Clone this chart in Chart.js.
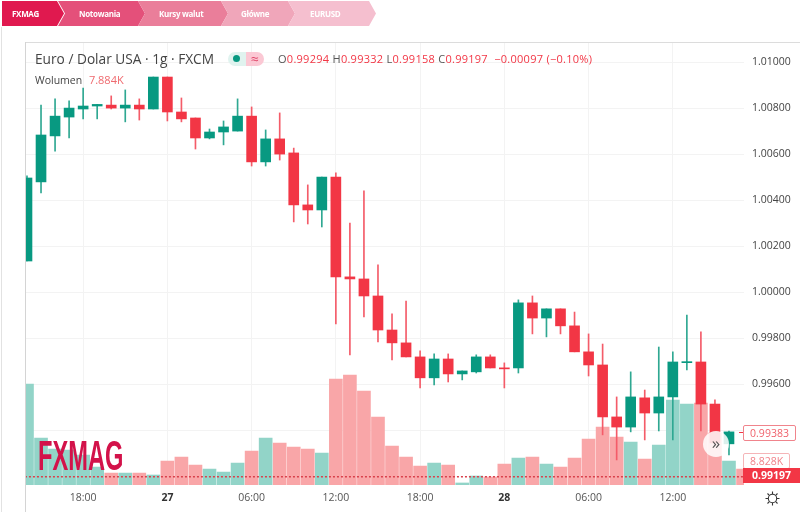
<!DOCTYPE html>
<html lang="pl">
<head>
<meta charset="utf-8">
<title>EURUSD</title>
<script src="https://cdn.jsdelivr.net/npm/chart.js@4/dist/chart.umd.min.js"></script>
<style>
  html, body { margin: 0; padding: 0; background: #fff; }
  #wrap { position: relative; width: 800px; height: 512px; overflow: hidden; font-family: "Open Sans", sans-serif; }
  canvas { position: absolute; left: 0; top: 0; }
  .abs { position: absolute; white-space: nowrap; }
  .tab { position: absolute; top: 1px; height: 25px; clip-path: polygon(0 0, calc(100% - 7px) 0, 100% 50%, calc(100% - 7px) 100%, 0 100%, 7px 50%); }
  .tabtxt { position: absolute; top: 8px; color: #fff; font: bold 8px "Open Sans", sans-serif; letter-spacing: -0.3px; }
  .ohlc { left: 278px; top: 51px; font-size: 11px; color: #f23645; letter-spacing: 0.27px; }
  .ohlc b { font-weight: normal; color: #555; }
  .pricebox { position: absolute; font: 10.5px "Open Sans", sans-serif; text-align: center; box-sizing: border-box; }
</style>
</head>
<body>
<div id="wrap">
  <canvas id="chart" width="800" height="512"></canvas>

  <div class="abs" style="left:1px;top:27px;width:1px;height:485px;background:#e2e2e2"></div>
  <div class="abs" style="left:25px;top:42px;width:775px;height:1px;background:#dcdcdc"></div>
  <div class="abs" style="left:25px;top:42px;width:1px;height:470px;background:#d4d4d4"></div>

  <div class="tab" style="left:2px;width:62px;background:#e0194f;clip-path:polygon(0 0,calc(100% - 7px) 0,100% 50%,calc(100% - 7px) 100%,0 100%)"></div>
  <div class="tab" style="left:58px;width:87px;background:#e4507a"></div>
  <div class="tab" style="left:138px;width:90px;background:#ea7e9a"></div>
  <div class="tab" style="left:221px;width:74px;background:#f0a6ba"></div>
  <div class="tab" style="left:288px;width:88px;background:#f5bfcf"></div>
  <div class="tabtxt" style="left:12px">FXMAG</div>
  <div class="tabtxt" style="left:79px">Notowania</div>
  <div class="tabtxt" style="left:159px">Kursy walut</div>
  <div class="tabtxt" style="left:241px">Główne</div>
  <div class="tabtxt" style="left:310px">EURUSD</div>

  <div class="abs" style="left:35px;top:49px;font-size:13.7px;color:#444">Euro / Dolar USA · 1g · FXCM</div>
  <div class="abs" style="left:228px;top:52px;width:18px;height:14px;background:#e0f3ef;border-radius:7px 0 0 7px"></div>
  <div class="abs" style="left:233px;top:55px;width:7px;height:7px;background:#089981;border-radius:50%"></div>
  <div class="abs" style="left:246px;top:52px;width:18px;height:14px;background:#fbc8d4;border-radius:0 7px 7px 0;color:#e0476a;font-size:14px;line-height:13px;text-align:center">≈</div>
  <div class="abs ohlc"><b>O</b>0.99294 <b>H</b>0.99332 <b>L</b>0.99158 <b>C</b>0.99197 &nbsp;−0.00097 (−0.10%)</div>
  <div class="abs" style="left:35px;top:72px;font-size:10.5px;color:#444">Wolumen <span style="color:#ef6a6f;margin-left:4px;font-size:11px">7.884K</span></div>

  <div class="abs" style="left:38px;top:431px;font:bold 43px 'Liberation Sans Narrow',sans-serif;color:#d3124a;transform:scaleX(0.55);transform-origin:left top">FXMAG</div>

  <div class="abs" style="left:716px;top:431px;width:26px;height:26px;margin-left:-13px;border-radius:50%;background:rgba(255,255,255,0.85);color:#555;font-size:17px;line-height:23px;text-align:center">»</div>

  <div class="abs" style="left:739px;top:432px;width:5px;height:1px;background:#f23645"></div>
  <div class="pricebox" style="left:743px;top:425px;width:53px;height:16px;background:#fff;border:1px solid #f0848c;border-radius:2px;color:#f0626c;line-height:14px">0.99383</div>
  <div class="pricebox" style="left:743px;top:453px;width:47px;height:16px;background:#fff;border:1px solid #f5b5b8;border-radius:2px;color:#f0828a;line-height:14px">8.828K</div>
  <div class="pricebox" style="left:743px;top:468px;width:57px;height:15px;background:#f23645;color:#fff;font-weight:bold;line-height:15px">0.99197</div>

  <svg class="abs" style="left:765px;top:491px" width="15" height="15" viewBox="0 0 15 15" fill="none" stroke="#333" stroke-width="1.1">
    <circle cx="7.5" cy="7.5" r="4.2"/>
    <path d="M7.5 0.5v2.5M7.5 12v2.5M0.5 7.5h2.5M12 7.5h2.5M2.5 2.5l1.8 1.8M10.7 10.7l1.8 1.8M2.5 12.5l1.8-1.8M10.7 4.3l1.8-1.8"/>
  </svg>
</div>

<script>
const opens = [1.00135,1.00479,1.00679,1.00761,1.00796,1.00809,1.00813,1.00800,1.00813,1.00796,1.00935,1.00783,1.00757,1.00670,1.00696,1.00700,1.00765,1.00566,1.00666,1.00605,1.00379,1.00357,1.00500,1.00066,1.00057,0.99983,0.99835,0.99779,0.99718,0.99627,0.99709,0.99644,0.99653,0.99718,0.99670,0.99670,0.99953,0.99887,0.99927,0.99853,0.99740,0.99683,0.99457,0.99413,0.99540,0.99474,0.99544,0.99693,0.99696,0.99513,0.99340];
const highs = [1.00505,1.00813,1.00840,1.00831,1.00887,1.00816,1.00853,1.00879,1.00840,1.00935,1.00935,1.00844,1.00757,1.00709,1.00744,1.00840,1.00805,1.00705,1.00779,1.00626,1.00466,1.00500,1.00518,1.00300,1.00440,1.00118,0.99905,0.99961,0.99744,0.99731,0.99731,0.99657,0.99727,0.99727,0.99692,0.99966,0.99983,0.99927,0.99927,0.99913,0.99818,0.99774,0.99544,0.99653,0.99574,0.99761,0.99740,0.99900,0.99827,0.99531,0.99396];
const lows = [1.00135,1.00431,1.00613,1.00670,1.00753,1.00753,1.00796,1.00740,1.00748,1.00796,1.00744,1.00740,1.00622,1.00666,1.00640,1.00700,1.00548,1.00548,1.00574,1.00305,1.00296,1.00283,0.99861,0.99727,0.99892,0.99783,0.99705,0.99718,0.99583,0.99596,0.99609,0.99618,0.99648,0.99670,0.99583,0.99648,0.99818,0.99805,0.99818,0.99740,0.99635,0.99379,0.99270,0.99392,0.99357,0.99396,0.99357,0.99661,0.99396,0.99344,0.99292];
const closes = [1.00496,1.00683,1.00765,1.00800,1.00809,1.00816,1.00800,1.00813,1.00796,1.00935,1.00783,1.00753,1.00670,1.00696,1.00718,1.00765,1.00566,1.00666,1.00600,1.00379,1.00357,1.00500,1.00066,1.00057,0.99983,0.99835,0.99779,0.99718,0.99627,0.99709,0.99644,0.99657,0.99718,0.99670,0.99666,0.99953,0.99887,0.99927,0.99853,0.99740,0.99683,0.99457,0.99413,0.99544,0.99474,0.99544,0.99696,0.99696,0.99513,0.99344,0.99392];
const volumes = [17.92,11.55,10.25,10.13,9.54,8.13,7.42,7.42,7.42,7.18,8.83,9.31,8.36,7.89,7.53,8.60,10.01,11.55,10.96,10.49,10.25,9.78,18.51,18.99,17.10,14.03,10.60,9.31,8.24,8.60,8.36,6.24,7.06,6.94,8.48,9.19,9.31,8.48,8.13,9.19,11.43,12.85,11.67,11.08,9.07,10.72,16.04,15.56,15.68,12.14,8.83,7.88];
const tickIndex = [4,10,16,22,28,34,40,46];
const tickNames = ['18:00','27','06:00','12:00','18:00','28','06:00','12:00'];
const boldTicks = ['27','28'];
const priceTicks = [0.994,0.996,0.998,1.000,1.002,1.004,1.006,1.008,1.010];
const lastClose = 0.99197;

const green = '#089981';
const red = '#f23645';
const greenVol = '#92d4c8';
const redVol = '#f9a6a8';

const isUp = i => i < opens.length && closes[i] > opens[i];

const candleColors = opens.map((o, i) => isUp(i) ? green : red);
const wickColors = opens.map((o, i) => isUp(i) ? '#2fa892' : '#f45c69');
const volColors = volumes.map((v, i) => isUp(i) ? greenVol : redVol);

new Chart(document.getElementById('chart'), {
  type: 'bar',
  data: {
    datasets: [
      {
        type: 'line',
        data: [{x: -1, y: lastClose}, {x: 53, y: lastClose}],
        borderColor: '#d9414c',
        borderWidth: 1.4,
        borderDash: [2, 2],
        pointRadius: 0,
        order: 0
      },
      {
        data: opens.map((o, i) => ({x: i, y: [o, closes[i]]})),
        backgroundColor: candleColors,
        barThickness: 10,
        minBarLength: 1,
        grouped: false,
        order: 1
      },
      {
        data: opens.map((o, i) => ({x: i, y: [lows[i], highs[i]]})),
        backgroundColor: wickColors,
        barThickness: 1,
        grouped: false,
        order: 2
      },
      {
        data: volumes.map((v, i) => ({x: i, y: v})),
        backgroundColor: volColors,
        barThickness: 13,
        grouped: false,
        yAxisID: 'vol',
        order: 3
      }
    ]
  },
  options: {
    responsive: false,
    animation: false,
    layout: {padding: {left: 26, top: 43, right: 0, bottom: 0}},
    plugins: {legend: {display: false}, tooltip: {enabled: false}},
    scales: {
      x: {
        type: 'linear',
        offset: false,
        min: -0.07,
        max: 51.07,
        afterBuildTicks: axis => { axis.ticks = tickIndex.map(v => ({value: v})); },
        afterFit: axis => { axis.height = 27; },
        border: {display: false},
        grid: {color: '#f3f3f3', offset: false, drawTicks: false},
        ticks: {
          autoSkip: false,
          maxRotation: 0,
          padding: 7,
          color: ctx => boldTicks.includes(tickNames[ctx.index]) ? '#333' : '#555',
          font: ctx => ({family: 'Open Sans', size: 10.5, weight: boldTicks.includes(tickNames[ctx.index]) ? 'bold' : 'normal'}),
          callback: v => tickNames[tickIndex.indexOf(v)]
        }
      },
      y: {
        position: 'right',
        min: 0.99161,
        max: 1.01083,
        afterBuildTicks: axis => { axis.ticks = priceTicks.map(v => ({value: v})); },
        afterFit: axis => { axis.width = 56; },
        border: {display: false},
        grid: {color: '#f3f3f3', drawTicks: false},
        ticks: {
          autoSkip: false,
          padding: 8,
          color: '#444',
          font: {family: 'Open Sans', size: 10.5},
          callback: v => v.toFixed(5)
        }
      },
      vol: {
        display: false,
        min: 6,
        max: 58.2
      }
    }
  }
});
</script>
</body>
</html>
